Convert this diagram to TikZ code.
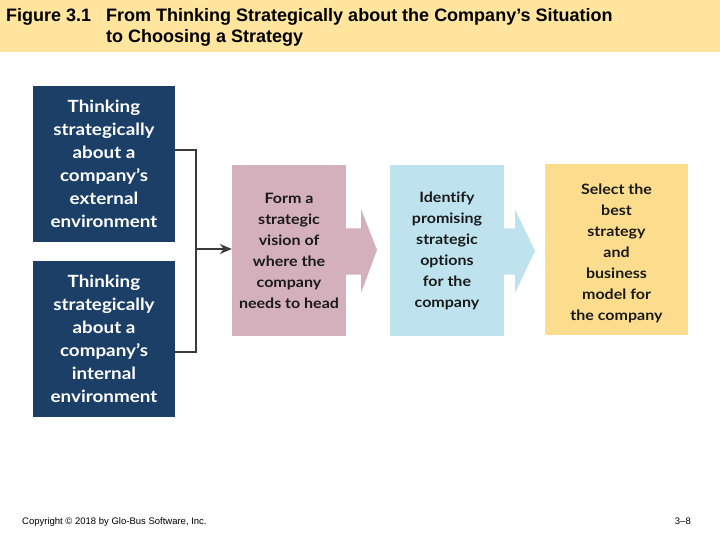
\documentclass[tikz,border=0pt]{standalone}
\usepackage{fontspec}
\setmainfont{Lato}[Ligatures=NoCommon,FakeStretch=1.12]
\newfontfamily\titlefont{Liberation Sans}
\newfontfamily\footfont{Liberation Sans}
\usetikzlibrary{arrows.meta,calc}
\definecolor{hdr}{HTML}{FFE59E}
\definecolor{navy}{HTML}{1B3F67}
\definecolor{pinkbox}{HTML}{D4B0BC}
\definecolor{bluebox}{HTML}{BEE3EF}
\definecolor{yelbox}{HTML}{FCDD8D}
\definecolor{txt}{HTML}{1A1A1A}
\definecolor{conn}{HTML}{3A3A3A}
\begin{document}
\begin{tikzpicture}[x=1pt,y=-1pt,
  navybox/.style={fill=navy,text=white,minimum width=142pt,minimum height=156pt,inner sep=0pt,align=center,font=\bfseries\fontsize{16.8}{23}\selectfont},
  stagebox/.style={minimum width=114pt,minimum height=171pt,inner sep=0pt,align=center,text=txt,font=\bfseries\fontsize{14.3}{21}\selectfont},
  bracket/.style={draw=conn,line width=1.4pt}
]
\path[use as bounding box,fill=white] (0,0) rectangle (720,540);
\fill[hdr] (0,0) rectangle (720,52);
\node[anchor=base west,inner sep=0pt,font=\titlefont\bfseries\fontsize{18}{20}\selectfont] (fig) at (6,22) {Figure 3.1};
\node[anchor=base west,inner sep=0pt,font=\titlefont\bfseries\fontsize{18}{21}\selectfont] (title) at (106,22) {From Thinking Strategically about the Company’s Situation};
\node[anchor=base west,inner sep=0pt,font=\titlefont\bfseries\fontsize{18}{21}\selectfont] (title2) at (106,43) {to Choosing a Strategy};

\node[navybox] (ext) at (104,164) {Thinking\\strategically\\about a\\company’s\\external\\environment};
\node[navybox] (int) at (104,339) {Thinking\\strategically\\about a\\company’s\\internal\\environment};

\node[stagebox,fill=pinkbox] (vision) at (289,250.5) {Form a\\strategic\\vision of\\where the\\company\\needs to head};
\node[stagebox,fill=bluebox] (options) at (447,250.5) {Identify\\promising\\strategic\\options\\for the\\company};
\node[stagebox,fill=yelbox,minimum width=143pt] (select) at (616.5,249.5) {};
\node[stagebox,minimum width=0pt,minimum height=0pt,yshift=-3.5pt] (selecttxt) at (select.center) {Select the\\best\\strategy\\and\\business\\model for\\the company};

\fill[pinkbox] ($(vision.east)+(0,-22)$) -- ++(15,0) -- ++(0,-19) -- (377,250) -- (361,293) -- ($(vision.east)+(15,24)$) -- ($(vision.east)+(0,24)$) -- cycle;
\fill[bluebox] ($(options.east)+(0,-22)$) -- ++(11,0) -- ++(0,-19) -- (535,251) -- (515,293) -- ($(options.east)+(11,24)$) -- ($(options.east)+(0,24)$) -- cycle;

\coordinate (j) at (196,249);
\draw[bracket] ($(ext.east)+(0,-14)$) -| (j) |- ($(int.east)+(0,13)$);
\draw[bracket,-{Stealth[length=12pt,width=10pt]}] (j) -- (vision.west |- j);

\node[anchor=base west,inner sep=0pt,font=\footfont\fontsize{9.5}{10}\selectfont] (copy) at (22,524) {Copyright © 2018 by Glo-Bus Software, Inc.};
\node[anchor=base east,inner sep=0pt,font=\footfont\fontsize{9.5}{10}\selectfont] (page) at (691,524) {3–8};
\end{tikzpicture}
\end{document}
